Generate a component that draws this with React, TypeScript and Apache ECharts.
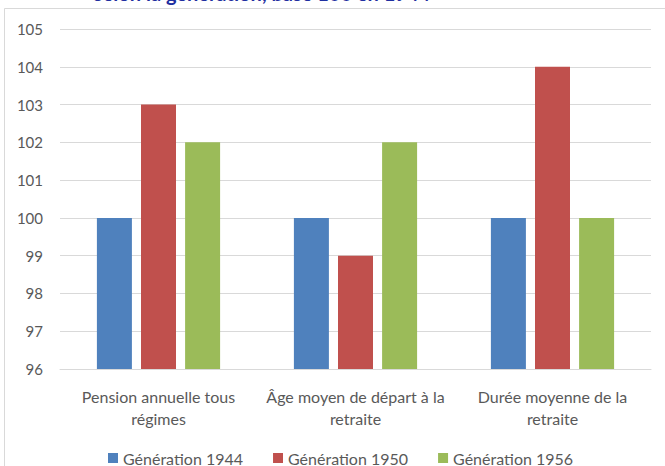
import React, { useEffect, useRef } from "react";
import * as echarts from "echarts";

const categories = [
  "Pension annuelle tous\nrégimes",
  "Âge moyen de départ à la\nretraite",
  "Durée moyenne de la\nretraite",
];
const seriesNames = ["Génération 1944", "Génération 1950", "Génération 1956"];
const gen1944 = [100, 100, 100];
const gen1950 = [103, 99, 104];
const gen1956 = [102, 102, 100];
const colors = ["#4F81BD", "#C0504D", "#9BBB59"];
const titleText = "selon la génération, base 100 en 1944";

const FONT = "Lato, 'Open Sans', sans-serif";

export default function App() {
  const ref = useRef<HTMLDivElement>(null);
  useEffect(() => {
    if (!ref.current) return;
    const chart = echarts.init(ref.current, undefined, { renderer: "svg" });
    const values = [gen1944, gen1950, gen1956];
    chart.setOption({
      animation: false,
      textStyle: { fontFamily: FONT },
      graphic: [
        {
          type: "rect",
          shape: { x: 4.5, y: 8.5, width: 700, height: 500 },
          style: { fill: "none", stroke: "#d9d9d9", lineWidth: 1 },
          silent: true,
        },
        {
          type: "text",
          x: 262,
          y: 3,
          style: {
            text: titleText,
            fill: "#1F2FA0",
            font: "bold 20px " + FONT,
            textAlign: "center",
            textVerticalAlign: "bottom",
          },
        },
      ],
      grid: { left: 60, right: 14, top: 29, bottom: 97 },
      legend: {
        left: 108,
        top: 450,
        padding: 0,
        itemWidth: 10,
        itemHeight: 10,
        itemGap: 30,
        icon: "rect",
        textStyle: { color: "#595959", fontSize: 16, fontFamily: FONT },
        data: seriesNames,
      },
      xAxis: {
        type: "category",
        data: categories,
        axisLine: { show: true, lineStyle: { color: "#d9d9d9" } },
        axisTick: { show: false },
        axisLabel: {
          color: "#595959",
          fontSize: 16,
          lineHeight: 22,
          margin: 16,
          interval: 0,
        },
      },
      yAxis: {
        type: "value",
        min: 96,
        max: 105,
        interval: 1,
        axisLine: { show: false },
        axisTick: { show: false },
        splitLine: { lineStyle: { color: "#d9d9d9" } },
        axisLabel: { color: "#595959", fontSize: 15, margin: 17 },
      },
      series: seriesNames.map((name, i) => ({
        name,
        type: "bar",
        data: values[i],
        barWidth: 35,
        barGap: "26%",
        itemStyle: { color: colors[i] },
      })),
    });
    return () => chart.dispose();
  }, []);
  return (
    <div
      ref={ref}
      style={{ position: "fixed", left: 0, top: 0, width: 665, height: 466, background: "#fff" }}
    />
  );
}
